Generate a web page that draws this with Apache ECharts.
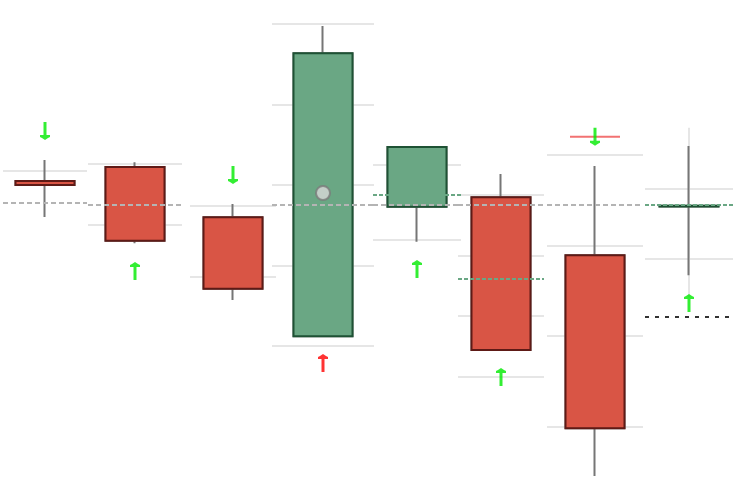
<!DOCTYPE html>
<html>
<head>
<meta charset="utf-8">
<script src="https://cdn.jsdelivr.net/npm/echarts@6/dist/echarts.min.js"></script>
<style>
  html, body { margin: 0; padding: 0; background: #fff; }
  #chart { width: 752px; height: 496px; }
</style>
</head>
<body>
<div id="chart"></div>
<script>
// one candle per panel, each panel has its own scale
const categories = ['D1', 'D2', 'D3', 'D4', 'D5', 'D6', 'D7', 'D8']
const openVals  = [108.57, 109.51, 108.41, 101.2, 104.44, 129.57, 118.9, 107.5]
const closeVals = [108.0, 97.43, 98.35, 136.36, 112.4, 104.4, 99.82, 107.6]
const lowVals   = [103.43, 97.0, 96.76, 101.2, 99.77, 104.4, 94.56, 97.67]
const highVals  = [111.57, 110.28, 110.28, 139.75, 112.4, 133.41, 128.75, 116.14]

const axisMin = [100, 100, 100, 100, 100, 100, 100, 90]
const axisMax = [110, 110, 110, 140, 110, 130, 130, 110]

const refLevel    = [105.43, 103.28, 110.14, 117.55, 104.67, 128.3, 124.45, null]
const greenLevel  = [null, null, null, null, 106.09, 116.15, null, 107.71]
const dottedLevel = [null, null, null, null, null, null, null, 91.71]
const signalVals  = [115.71, 92.46, 114.37, 97.89, 96.13, 99.95, 131.99, 93.71]
const signalDir   = ['down', 'up', 'down', 'up', 'up', 'up', 'down', 'up']
const signalBad   = [false, false, false, true, false, false, false, false]
const stopLevel   = [null, null, null, null, null, null, 131.99, null]
const pivotVals   = [null, null, null, 119.0, null, null, null, null]
const rangeHigh   = [null, null, null, null, null, null, null, 118.71]
const rangeLow    = [null, null, null, null, null, null, null, 94.57]

// panel layout (px)
const gridLeft   = [3, 88, 190, 272, 373, 458, 547, 645]
const gridWidth  = [84, 94, 86, 102, 88, 86, 96, 88]
const gridTop    = [171, 164, 206, 24, 165, 194.7, 154.7, 189]
const gridHeight = [70, 61, 71, 322, 75, 182, 272, 140]
const minLineOn  = [false, true, true, true, true, true, true, false]

const RED = '#d95545', RED_BORDER = '#5e1a16'
const GREEN = '#6aa784', GREEN_BORDER = '#1e5234'
const ARROW = 'path://M5,0 L8,2 L10,3 L10,5 L6.5,5 L6.5,18 L3.5,18 L3.5,5 L0,5 L0,3 L2,2 Z'

const grid = [], xAxis = [], yAxis = [], series = []

categories.forEach((cat, i) => {
  grid.push({ left: gridLeft[i], top: gridTop[i], width: gridWidth[i], height: gridHeight[i] })
  xAxis.push({ type: 'category', gridIndex: i, data: [cat], show: false })
  yAxis.push({
    type: 'value', gridIndex: i, min: axisMin[i], max: axisMax[i], interval: 10,
    axisLine: { show: false }, axisTick: { show: false }, axisLabel: { show: false },
    splitLine: { show: true, showMinLine: minLineOn[i], lineStyle: { color: '#e6e6e6', width: 2 } }
  })

  if (rangeHigh[i] != null) {
    series.push({
      type: 'candlestick', xAxisIndex: i, yAxisIndex: i, clip: false, barWidth: 2,
      data: [[rangeHigh[i], rangeLow[i], rangeLow[i], rangeHigh[i]]],
      itemStyle: { color: '#e6e6e6', color0: '#e6e6e6', borderColor: '#e6e6e6', borderColor0: '#e6e6e6', borderWidth: 1 },
      silent: true, z: 1
    })
  }

  // wick
  series.push({
    type: 'candlestick', xAxisIndex: i, yAxisIndex: i, clip: false, barWidth: 60,
    data: [[openVals[i], closeVals[i], lowVals[i], highVals[i]]],
    itemStyle: { color: GREEN, color0: RED, borderColor: '#767676', borderColor0: '#767676', borderWidth: 2 },
    silent: true, z: 2
  })

  const lines = []
  if (refLevel[i] != null) lines.push({ yAxis: refLevel[i], lineStyle: { color: '#b4b4b4', type: [5, 3], width: 2 } })
  if (greenLevel[i] != null) lines.push({ yAxis: greenLevel[i], lineStyle: { color: GREEN, type: [4, 2], width: 2 } })
  if (dottedLevel[i] != null) lines.push({ yAxis: dottedLevel[i], lineStyle: { color: '#333', type: [4, 6], width: 2 } })

  // body
  series.push({
    type: 'candlestick', xAxisIndex: i, yAxisIndex: i, clip: false, barWidth: 60,
    data: [[openVals[i], closeVals[i], Math.min(openVals[i], closeVals[i]), Math.max(openVals[i], closeVals[i])]],
    itemStyle: { color: GREEN, color0: RED, borderColor: GREEN_BORDER, borderColor0: RED_BORDER, borderWidth: 2 },
    markLine: { silent: true, symbol: 'none', label: { show: false }, data: lines },
    silent: true, z: 3
  })

  const marks = []
  if (stopLevel[i] != null) {
    marks.push({ value: [0, stopLevel[i]], symbol: 'rect', symbolSize: [50, 2], itemStyle: { color: '#ef4f4f' } })
  }
  marks.push({
    value: [0, signalVals[i]], symbol: ARROW, symbolSize: [10, 18],
    symbolRotate: signalDir[i] === 'down' ? 180 : 0,
    itemStyle: { color: signalBad[i] ? '#ff0000' : '#00ea00' }
  })
  if (pivotVals[i] != null) {
    marks.push({ value: [0, pivotVals[i]], symbol: 'circle', symbolSize: 14, itemStyle: { color: '#d9d9d9', borderColor: '#7a7a7a', borderWidth: 2 } })
  }
  series.push({ type: 'scatter', xAxisIndex: i, yAxisIndex: i, clip: false, data: marks, silent: true, z: 4 })
})

const chart = echarts.init(document.getElementById('chart'))
chart.setOption({ animation: false, grid, xAxis, yAxis, series })
</script>
</body>
</html>
